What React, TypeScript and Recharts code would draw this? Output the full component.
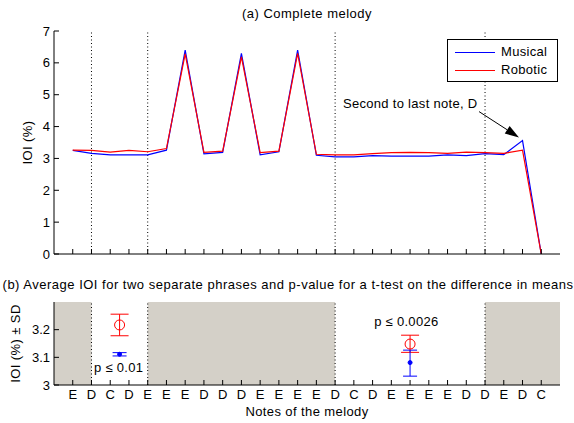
import React from 'react';
import {
  LineChart,
  ComposedChart,
  Line,
  Scatter,
  ErrorBar,
  XAxis,
  YAxis,
  ReferenceLine,
  ReferenceArea,
  ReferenceDot,
  Legend,
} from 'recharts';

// ---------- data ----------
const notes = ['E', 'D', 'C', 'D', 'E', 'E', 'E', 'D', 'D', 'D', 'E', 'E', 'E', 'E', 'D', 'C', 'D', 'E', 'E', 'E', 'E', 'D', 'D', 'E', 'D', 'C'];
const musical = [3.25, 3.16, 3.11, 3.11, 3.11, 3.26, 6.4, 3.14, 3.19, 6.3, 3.11, 3.21, 6.4, 3.1, 3.05, 3.05, 3.09, 3.07, 3.07, 3.07, 3.11, 3.09, 3.15, 3.12, 3.56, 0];
const robotic = [3.26, 3.25, 3.2, 3.25, 3.21, 3.31, 6.28, 3.19, 3.23, 6.19, 3.18, 3.23, 6.3, 3.13, 3.11, 3.11, 3.15, 3.18, 3.19, 3.18, 3.16, 3.2, 3.18, 3.16, 3.26, 0];

const topYTicks = [0, 1, 2, 3, 4, 5, 6, 7];
const bottomYTicks = [3, 3.1, 3.2];
const phraseBounds = [2, 5, 15, 23];
const shadedRegions: [number, number][] = [[0, 2], [5, 15], [23, 27]];

const phraseX = [3.5, 19];
const roboticMean = [3.217, 3.148];
const roboticErr: [number, number][] = [[0.039, 0.039], [0.03, 0.032]];
const musicalMean = [3.111, 3.081];
const musicalErr: [number, number][] = [[0.006, 0.006], [0.049, 0.045]];
const pValues = ['p \u2264 0.01', 'p \u2264 0.0026'];
const pLabelPos = [{ x: 3.45, y: 3.064 }, { x: 18.8, y: 3.231 }];

const annotation = { text: 'Second to last note, D', x: 15.42, y: 4.73 };
const arrowSeg = [{ x: 22.68, y: 4.47 }, { x: 24.81, y: 3.66 }];

// ---------- derived ----------
const noteTicks = notes.map((_, i) => i + 1);
const lineData = notes.map((n, i) => ({ x: i + 1, note: n, musical: musical[i], robotic: robotic[i] }));
const roboticData = phraseX.map((x, i) => ({ x, y: roboticMean[i], err: roboticErr[i] }));
const musicalData = phraseX.map((x, i) => ({ x, y: musicalMean[i], err: musicalErr[i] }));

const FONT = '"Liberation Sans", Arial, Helvetica, sans-serif';
const BLUE = '#0000ff';
const RED = '#ff0000';
const GRAY = '#d4d0c8';
const tickStyle = { fontSize: 13, fill: '#000', fontFamily: FONT };

const Arrow = (props: any) => {
  const { x1, y1, x2, y2 } = props;
  const dx = x2 - x1;
  const dy = y2 - y1;
  const len = Math.sqrt(dx * dx + dy * dy);
  const ux = dx / len;
  const uy = dy / len;
  const headL = 14;
  const headW = 4.5;
  const bx = x2 - ux * headL;
  const by = y2 - uy * headL;
  const px = -uy;
  const py = ux;
  return (
    <g>
      <line x1={x1} y1={y1} x2={bx} y2={by} stroke="#000" strokeWidth={1} />
      <polygon
        points={`${x2},${y2} ${bx + px * headW},${by + py * headW} ${bx - px * headW},${by - py * headW}`}
        fill="#000"
      />
    </g>
  );
};

const LegendBox = (props: any) => {
  const payload = (props.payload || []) as any[];
  return (
    <div
      style={{
        width: 111,
        height: 43,
        boxSizing: 'border-box',
        border: '1px solid #000',
        background: '#fff',
        fontFamily: FONT,
        fontSize: 13,
        letterSpacing: 0.3,
        paddingTop: 3,
      }}
    >
      {payload.map((p: any) => (
        <div key={p.value} style={{ display: 'flex', alignItems: 'center', height: 18 }}>
          <div style={{ width: 40, height: 0, borderTop: `1px solid ${p.color}`, marginLeft: 7, marginRight: 6 }} />
          <span style={{ lineHeight: '18px' }}>{p.value}</span>
        </div>
      ))}
    </div>
  );
};

const blank = () => '';

export default function App() {
  return (
    <div style={{ position: 'absolute', left: 0, top: 0, width: 574, height: 423, background: '#fff', fontFamily: FONT }}>
      <div style={{ position: 'absolute', left: 54, width: 506, top: 6, textAlign: 'center', fontSize: 13, letterSpacing: 0.5 }}>
        (a) Complete melody
      </div>
      <div style={{ position: 'absolute', left: 0, width: 576, top: 277, textAlign: 'center', fontSize: 13, letterSpacing: 0.5, whiteSpace: 'nowrap' }}>
        (b) Average IOI for two separate phrases and p-value for a t-test on the difference in means
      </div>

      <div style={{ position: 'absolute', left: 0, top: 0 }}>
        <LineChart width={574} height={270} data={lineData} margin={{ top: 31, right: 14, left: 0, bottom: 0 }}>
          <XAxis dataKey="x" type="number" domain={[0, 27]} ticks={noteTicks} tickFormatter={blank} tickSize={-5} height={16} stroke="#000" allowDataOverflow />
          <XAxis xAxisId="top" orientation="top" type="number" domain={[0, 27]} ticks={noteTicks} tickFormatter={blank} tickSize={-5} height={0} stroke="#000" allowDataOverflow />
          <YAxis
            type="number"
            domain={[0, 7]}
            ticks={topYTicks}
            tickSize={-5}
            tickMargin={9}
            width={54}
            stroke="#000"
            tick={tickStyle}
            allowDataOverflow
            label={{
              content: (p: any) => {
                const vb = p.viewBox;
                const cx = vb.x + 27;
                const cy = vb.y + vb.height / 2;
                return (
                  <text x={cx} y={cy} transform={`rotate(-90, ${cx}, ${cy})`} textAnchor="middle" dominantBaseline="central" fontSize={13} fontFamily={FONT} fill="#000" style={{ letterSpacing: 0.4 }}>
                    IOI (%)
                  </text>
                );
              },
            }}
          />
          <YAxis yAxisId="right" orientation="right" type="number" domain={[0, 7]} ticks={topYTicks} tickFormatter={blank} tickSize={-5} width={0} stroke="#000" allowDataOverflow />
          {phraseBounds.map((b) => (
            <ReferenceLine key={b} x={b} stroke="#000" strokeDasharray="1 2.5" />
          ))}
          <Line dataKey="musical" name="Musical" type="linear" stroke={BLUE} strokeWidth={1.2} dot={false} isAnimationActive={false} />
          <Line dataKey="robotic" name="Robotic" type="linear" stroke={RED} strokeWidth={1.2} dot={false} isAnimationActive={false} />
          <ReferenceLine segment={arrowSeg} shape={Arrow} ifOverflow="visible" />
          <ReferenceDot
            x={annotation.x}
            y={annotation.y}
            r={0}
            fill="none"
            stroke="none"
            ifOverflow="visible"
            label={{ value: annotation.text, position: 'right', offset: 0, fontSize: 13, fontFamily: FONT, fill: '#000', style: { letterSpacing: 0.3 } }}
          />
          <Legend
            layout="horizontal"
            verticalAlign="middle"
            align="center"
            content={LegendBox}
            wrapperStyle={{ position: 'absolute', left: 447, top: 39, width: 111, height: 43 }}
          />
        </LineChart>
      </div>

      <div style={{ position: 'absolute', left: 0, top: 270 }}>
        <ComposedChart width={574} height={153} margin={{ top: 32, right: 14, left: 0, bottom: 0 }}>
          {shadedRegions.map(([a, b]) => (
            <ReferenceArea key={a} x1={a} x2={b} y1={3} y2={3.3} fill={GRAY} fillOpacity={1} stroke="none" ifOverflow="visible" />
          ))}
          <XAxis
            dataKey="x"
            type="number"
            domain={[0, 27]}
            ticks={noteTicks}
            tickFormatter={(v: number) => notes[v - 1] || ''}
            tickSize={-5}
            tickMargin={10}
            height={38}
            stroke="#000"
            tick={tickStyle}
            interval={0}
            allowDataOverflow
            label={{
              content: (p: any) => {
                const vb = p.viewBox;
                return (
                  <text x={vb.x + vb.width / 2} y={vb.y + 26} textAnchor="middle" dominantBaseline="central" fontSize={13} fontFamily={FONT} fill="#000" style={{ letterSpacing: 0.4 }}>
                    Notes of the melody
                  </text>
                );
              },
            }}
          />
          <XAxis xAxisId="top" orientation="top" type="number" domain={[0, 27]} ticks={noteTicks} tickFormatter={blank} tickSize={-5} height={0} stroke="#000" allowDataOverflow />
          <YAxis
            type="number"
            dataKey="y"
            domain={[3, 3.3]}
            ticks={bottomYTicks}
            tickSize={-5}
            tickMargin={9}
            width={54}
            stroke="#000"
            tick={tickStyle}
            allowDataOverflow
            label={{
              content: (p: any) => {
                const vb = p.viewBox;
                const cx = vb.x + 15;
                const cy = vb.y + vb.height / 2;
                return (
                  <text x={cx} y={cy} transform={`rotate(-90, ${cx}, ${cy})`} textAnchor="middle" dominantBaseline="central" fontSize={13} fontFamily={FONT} fill="#000" style={{ letterSpacing: 0.4 }}>
                    IOI (%) ± SD
                  </text>
                );
              },
            }}
          />
          <YAxis yAxisId="right" orientation="right" type="number" domain={[3, 3.3]} ticks={bottomYTicks} tickFormatter={blank} tickSize={-5} width={0} stroke="#000" allowDataOverflow />
          {phraseBounds.map((b) => (
            <ReferenceLine key={b} x={b} stroke="#000" strokeDasharray="1 2.5" />
          ))}
          <Scatter
            data={roboticData}
            dataKey="y"
            isAnimationActive={false}
            shape={(p: any) => <circle cx={p.cx} cy={p.cy} r={5} fill="none" stroke={RED} strokeWidth={1} />}
          >
            <ErrorBar dataKey="err" direction="y" width={9} stroke={RED} strokeWidth={1} />
          </Scatter>
          <Scatter
            data={musicalData}
            dataKey="y"
            isAnimationActive={false}
            shape={(p: any) => <circle cx={p.cx} cy={p.cy} r={2} fill={BLUE} stroke={BLUE} />}
          >
            <ErrorBar dataKey="err" direction="y" width={7} stroke={BLUE} strokeWidth={1} />
          </Scatter>
          {pValues.map((t, i) => (
            <ReferenceDot
              key={t}
              x={pLabelPos[i].x}
              y={pLabelPos[i].y}
              r={0}
              fill="none"
              stroke="none"
              ifOverflow="visible"
              label={{ value: t, position: 'center', fontSize: 13, fontFamily: FONT, fill: '#000', style: { letterSpacing: 0.3 } }}
            />
          ))}
        </ComposedChart>
      </div>
    </div>
  );
}
